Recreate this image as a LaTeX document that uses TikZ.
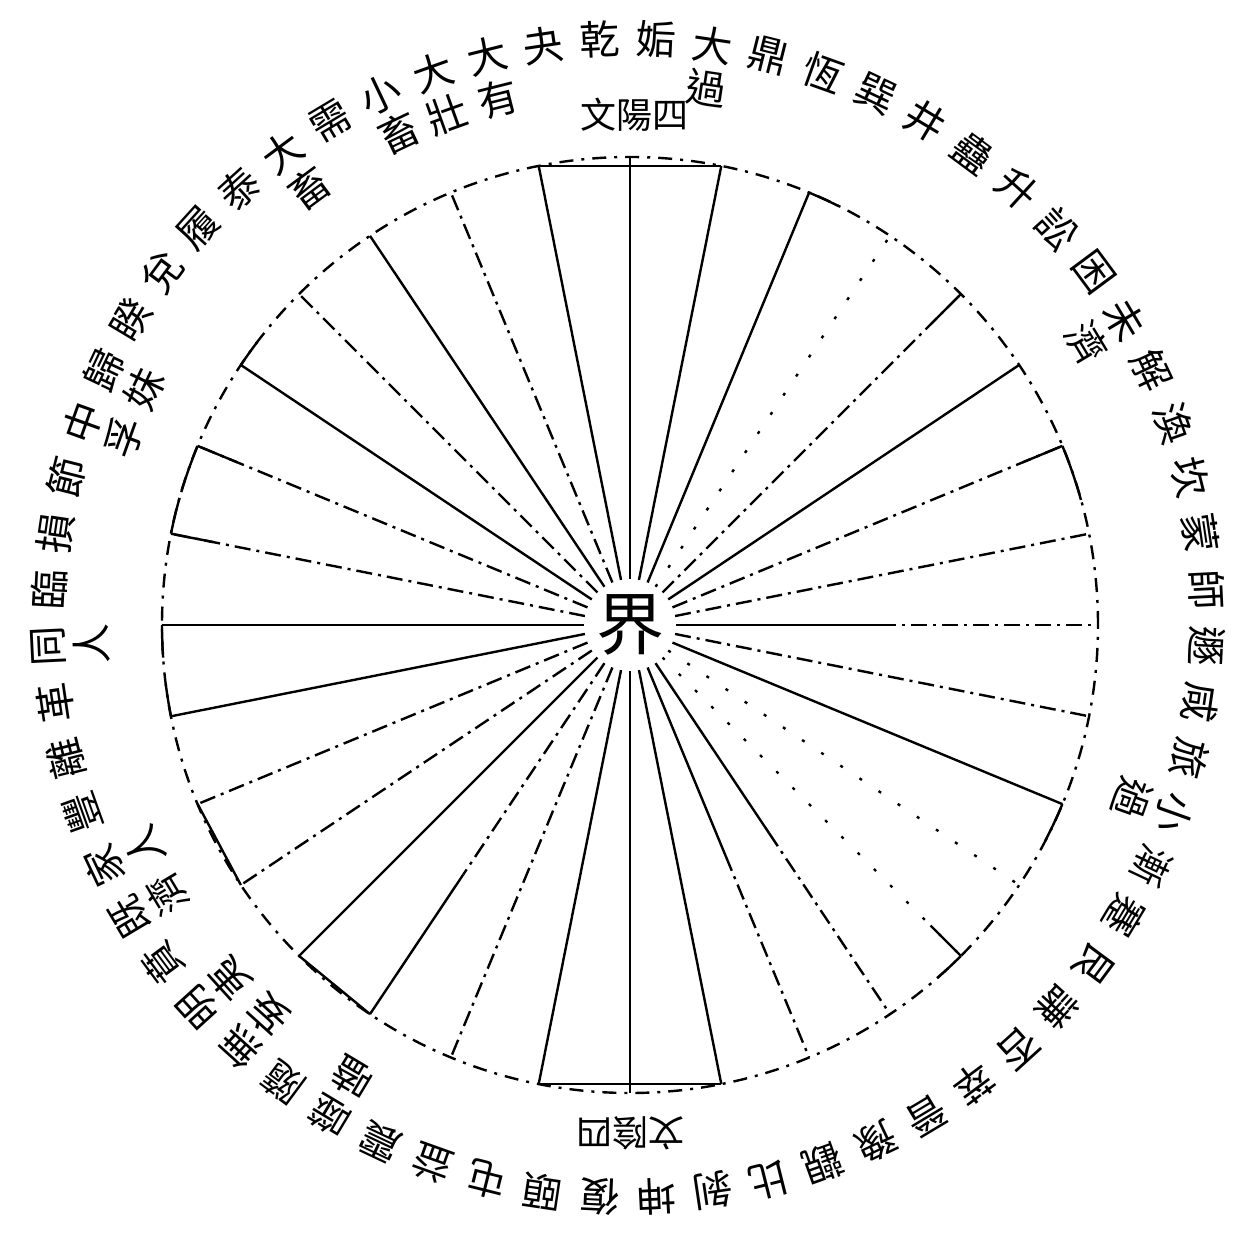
\documentclass[tikz,border=0pt]{standalone}
\usepackage{fontspec}
\usepackage{tikz}
\usetikzlibrary{calc}
\newfontfamily\cjk{Noto Sans CJK TC}

\tikzset{
  spoke/.style={draw=black,line width=1.2pt},
  dspoke/.style={draw=black,line width=1.2pt,dash pattern=on 8pt off 3pt on 1.5pt off 3pt},
  fspoke/.style={draw=black,line width=1.2pt,dash pattern=on 1.5pt off 10pt},
  rim/.style={draw=black,line width=1.2pt,dash pattern=on 7pt off 4pt on 1.5pt off 4pt},
  hub/.style={circle,inner sep=0pt,font=\cjk\fontsize{34}{34}\selectfont},
  gua/.style={inner sep=0pt,align=center,anchor=north,font=\cjk\fontsize{20}{22}\selectfont},
  tag/.style={inner sep=0pt,font=\cjk\fontsize{18}{18}\selectfont}
}

\begin{document}
\begin{tikzpicture}[x=0.5pt,y=0.5pt]
\useasboundingbox (-630,-610) rectangle (602,625);
% centre:
\node[hub] (ctr) at (0,0) {界};
% spokes:
\foreach \t in {0,11.25,22.5,56.25,112.5,168.75,180,191.25,225,258.75,270,303.75,326.25,348.75}
  \path[spoke] (ctr) -- ({90-\t}:468);
\foreach \t in {45,67.5,78.75,101.25,202.5,236.25,247.5,281.25,292.5,315,337.5}
  \path[dspoke] (ctr) -- ({90-\t}:468);
\foreach \t in {33.75,123.75,135}
  \path[fspoke] (ctr) -- ({90-\t}:468);
\foreach \t in {90,146.25,157.5} {
  \path[spoke] (ctr) -- ({90-\t}:250);
  \path[dspoke] ({90-\t}:250) -- ({90-\t}:468);
}
\path[dspoke] (ctr) -- (-123.75:300);
\path[spoke] (-123.75:300) -- (-123.75:468);
\foreach \t in {45,67.5,135,281.25,292.5}
  \path[spoke] ({90-\t}:425) -- ({90-\t}:468);
% rim:
\path[rim] (0,0) circle (468);
\path[spoke] (101.25:468) -- (78.75:468);
\path[spoke] (-78.75:468) -- (-101.25:468);
\path[spoke] (-123.75:468) -- (-135:468);
\path[spoke] (-146.25:468) -- (-157.5:468);
\path[spoke] (157.5:468) arc[start angle=157.5,delta angle=6,radius=468];
\path[spoke] (168.75:468) arc[start angle=168.75,delta angle=-4.5,radius=468];
\path[spoke] (180:468) arc[start angle=180,delta angle=4,radius=468];
\path[spoke] (191.25:468) arc[start angle=191.25,delta angle=-4,radius=468];
\path[spoke] (146.25:468) arc[start angle=146.25,delta angle=-3.5,radius=468];
\path[spoke] (67.5:468) arc[start angle=67.5,delta angle=-4,radius=468];
\path[spoke] (22.5:468) arc[start angle=22.5,delta angle=-7,radius=468];
\path[spoke] (-22.5:468) arc[start angle=-22.5,delta angle=-5,radius=468];
\path[spoke] (-45:468) arc[start angle=-45,delta angle=-4,radius=468];
% names round the rim:
\foreach \nm [count=\i from 0] in {姤,{大\\過},鼎,恆,巽,井,蠱,升,訟,困,{未\\濟},解,渙,坎,蒙,師,遯,咸,旅,{小\\過},漸,蹇,艮,謙,否,萃,晉,豫,觀,比,剝,坤,復,頤,屯,益,震,{噬\\嗑},隨,{無\\妄},{明\\夷},賁,{既\\濟},{家\\人},豐,離,革,{同\\人},臨,損,節,{中\\孚},{歸\\妹},睽,兌,履,泰,{大\\畜},需,{小\\畜},{大\\壯},{大\\有},夬,乾} {
  \pgfmathsetmacro\th{2.8125+5.625*\i}
  \node[gua,rotate=-\th] (g\i) at ($(-2,7)+(90-\th:598)$) {\nm};
}
\node[tag] (yang) at (4,510) {文陽四};
\node[tag,rotate=180] (yin) at (0,-508) {文陰四};
\end{tikzpicture}
\end{document}
